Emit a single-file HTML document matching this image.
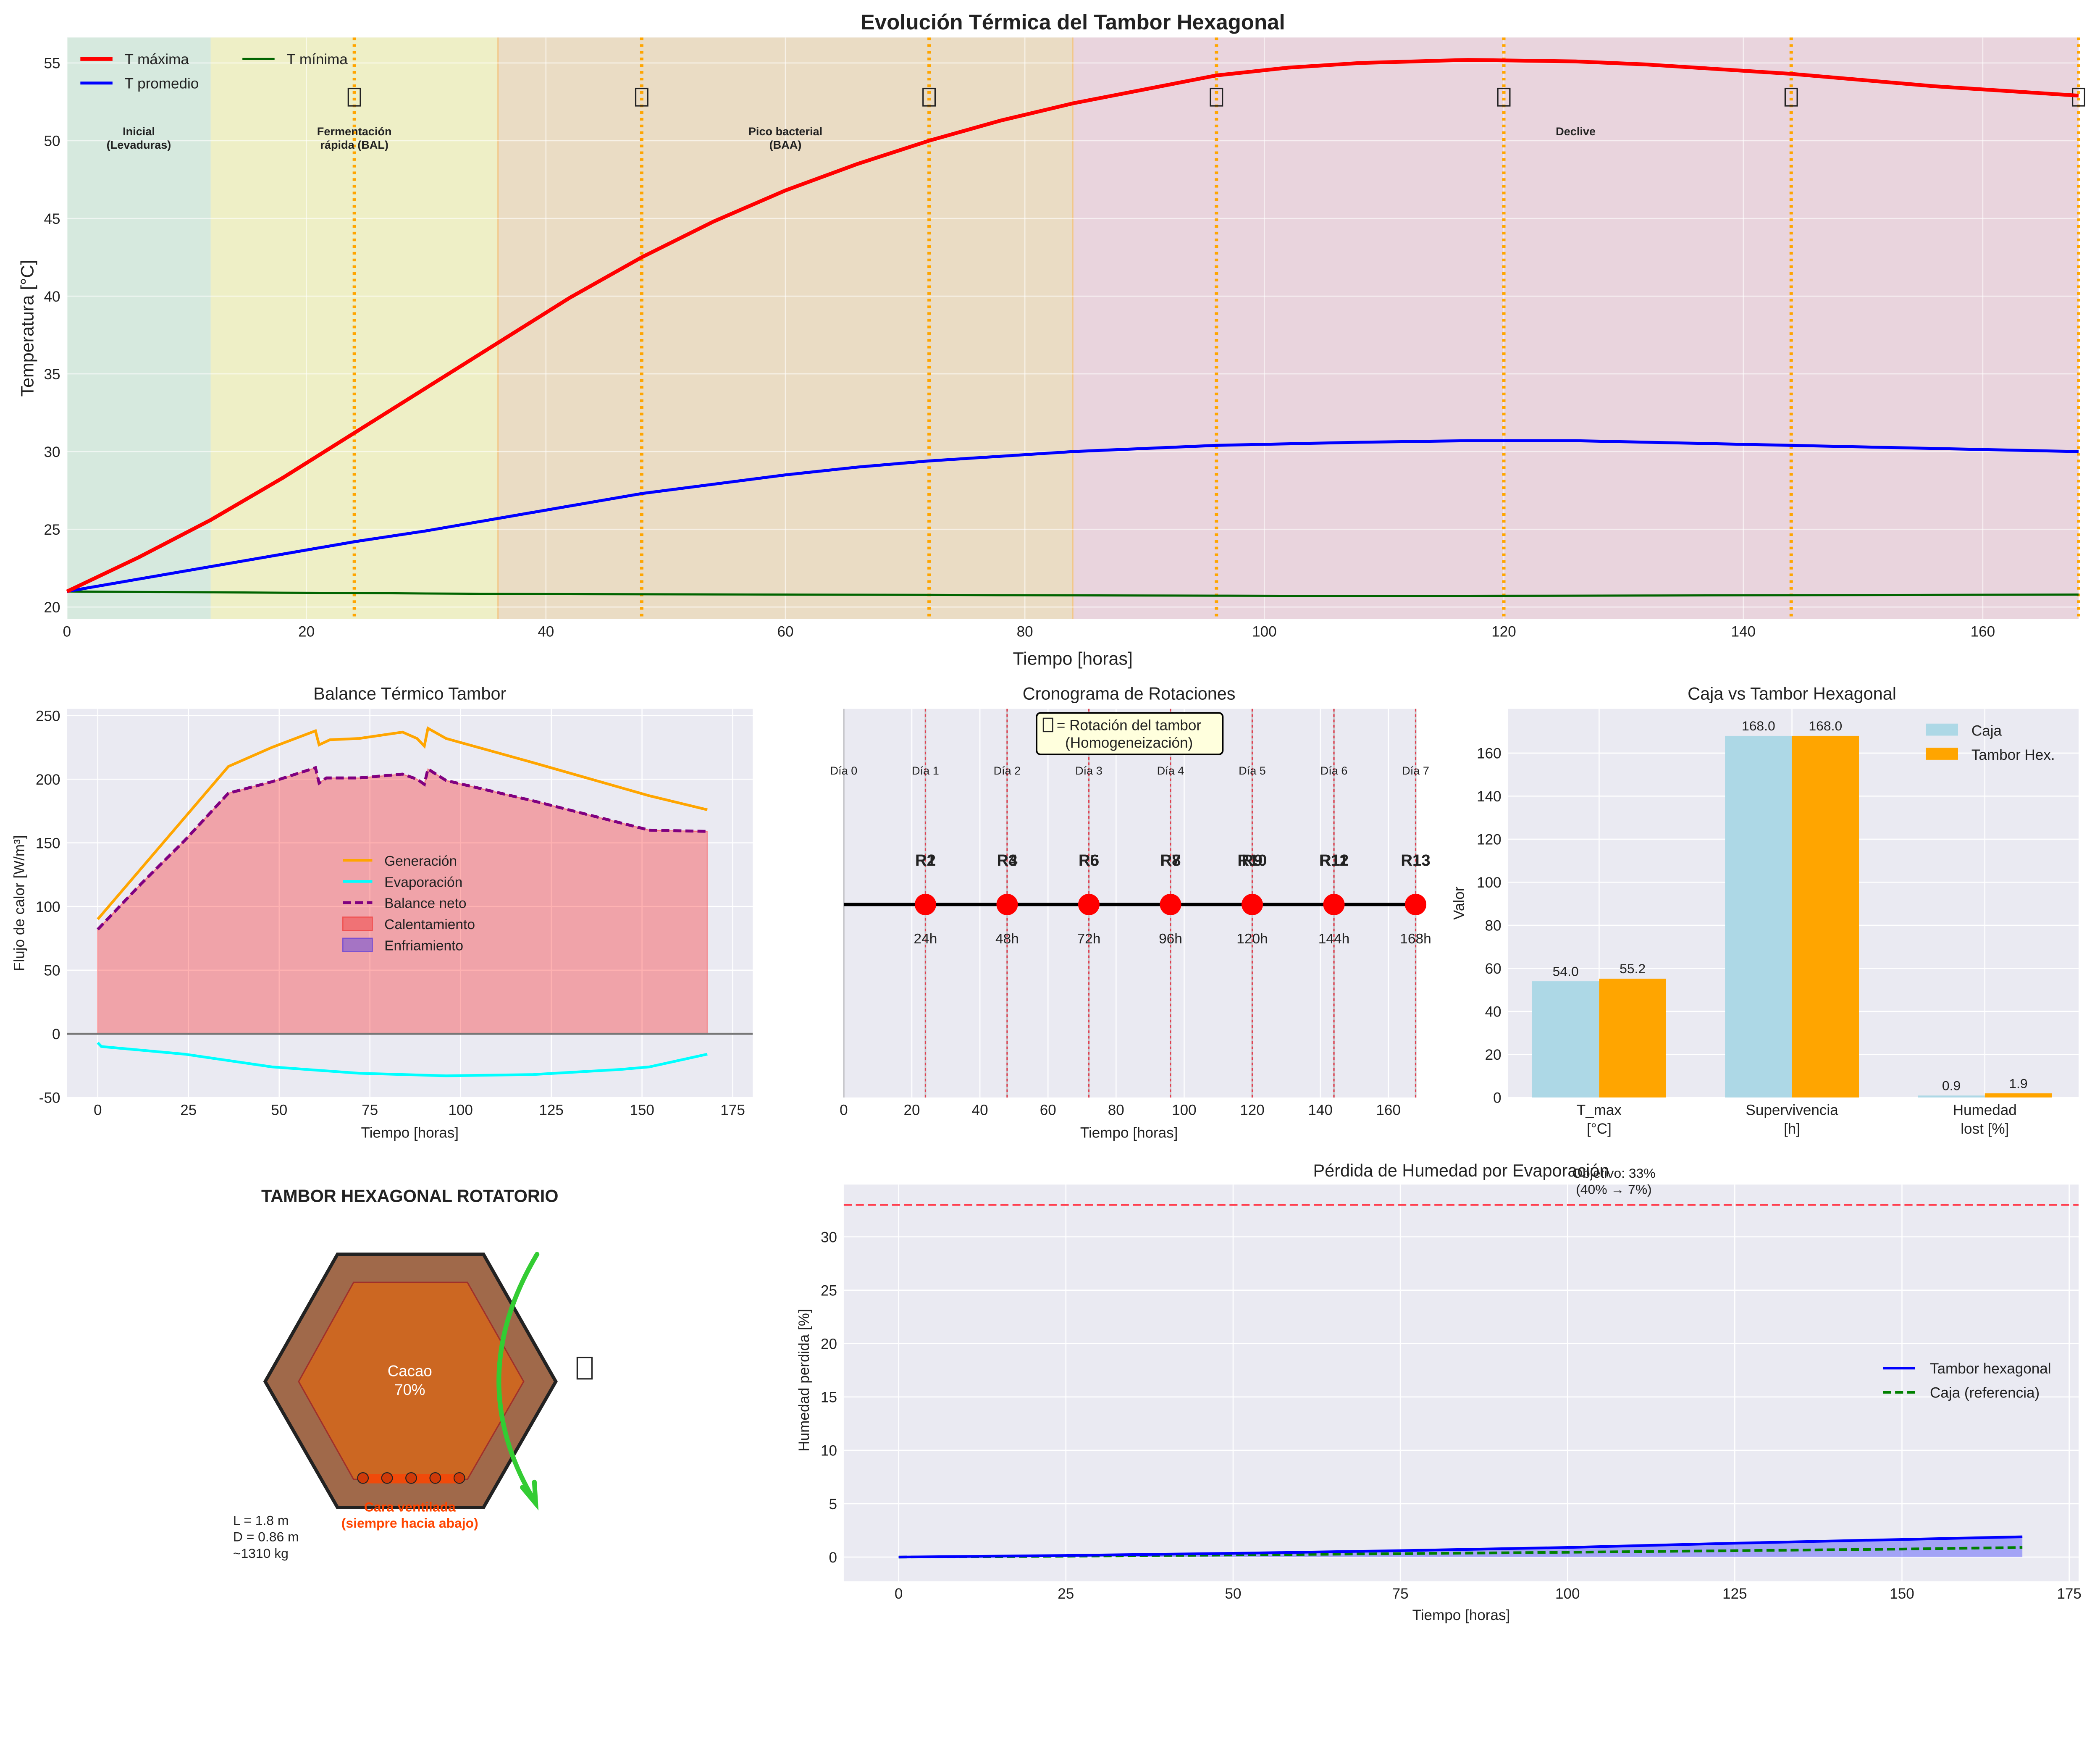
<!DOCTYPE html>
<html><head><meta charset="utf-8"><style>
html,body{margin:0;padding:0;background:#fff;overflow:hidden}
#fig{display:block;position:absolute;left:0;top:0;width:100vw;height:77.5871vw}
text{font-family:"Liberation Sans",sans-serif;fill:#222}
</style></head><body>
<svg id="fig" xmlns="http://www.w3.org/2000/svg" viewBox="0 0 1568 1216" preserveAspectRatio="none">
<rect x="0" y="0" width="1568" height="1216" fill="#fff"/>
</svg>
<script>
// ---------- DATA ----------
const tempHours = [0,6,12,18,24,30,36,42,48,54,60,66,72,78,84,90,96,102,108,117,126,132,144,156,168];
const tMax =      [21,23.2,25.6,28.3,31.2,34.1,37,39.9,42.5,44.8,46.8,48.5,50,51.3,52.4,53.3,54.2,54.7,55,55.2,55.1,54.9,54.3,53.5,52.9];
const tProm =     [21,21.8,22.6,23.4,24.2,24.9,25.7,26.5,27.3,27.9,28.5,29,29.4,29.7,30,30.2,30.4,30.5,30.6,30.7,30.7,30.6,30.4,30.2,30];
const tMin =      [21,20.97,20.95,20.92,20.9,20.87,20.85,20.83,20.82,20.81,20.8,20.79,20.78,20.76,20.75,20.74,20.73,20.72,20.72,20.72,20.73,20.74,20.76,20.78,20.8];
const phaseStarts = [0,12,36,84];
const phaseEnds = [12,36,84,168];
const phaseLabels = [["Inicial","(Levaduras)"],["Fermentación","rápida (BAL)"],["Pico bacterial","(BAA)"],["Declive",""]];
const phaseLabelAt = [6,24,60,126];
const rotationHours = [24,48,72,96,120,144,168];

const genHours = [0,12,24,36,48,60,61,64,72,84,88,90,91,96,120,152,168];
const genVals =  [90,130,170,210,225,238,227,231,232,237,232,226,240,232,213,187,176];
const balHours = [0,12,24,36,48,60,61,63,72,84,88,90,91,96,120,152,168];
const balVals =  [82,118,152,189,198,209,197,201,201,204,200,196,208,199,183,160,159];
const evapHours = [0,1,24,48,72,96,120,144,152,168];
const evapVals =  [-7,-10,-16,-26,-31,-33,-32,-28,-26,-16];

const dayLabels = ["Día 0","Día 1","Día 2","Día 3","Día 4","Día 5","Día 6","Día 7"];
const rotLabelsA = ["R1","R3","R5","R7","R9","R11","R13"];
const rotLabelsB = ["R2","R4","R6","R8","R10","R12","R13"];

const cmpCategories = [["T_max","[°C]"],["Supervivencia","[h]"],["Humedad","lost [%]"]];
const cajaVals = [54.0,168.0,0.9];
const tamborVals = [55.2,168.0,1.9];

const humHours = [0,25,50,75,100,125,150,168];
const humTambor = [0,0.15,0.35,0.6,0.9,1.3,1.65,1.9];
const humCaja = [0,0.08,0.2,0.32,0.45,0.6,0.75,0.9];
const humTarget = 33;

// ---------- HELPERS ----------
const svg = document.getElementById('fig');
const NS = 'http://www.w3.org/2000/svg';
function mk(tag, attrs, parent){
  const e = document.createElementNS(NS, tag);
  for (const k in attrs) e.setAttribute(k, attrs[k]);
  (parent||svg).appendChild(e);
  return e;
}
function nm(el, name, inter){
  
  
  return el;
}
function txt(x,y,s,size,opts,parent){
  const a = Object.assign({x:x,y:y,'font-size':size}, opts||{});
  const t = mk('text', a, parent);
  t.textContent = s;
  return t;
}
function lin(d0,d1,r0,r1){ return v => r0 + (v-d0)/(d1-d0)*(r1-r0); }
function pathOf(xs,ys,X,Y){ return xs.map((v,i)=>(i?'L':'M')+X(v).toFixed(2)+','+Y(ys[i]).toFixed(2)).join(''); }
function frame(x0,y0,x1,y1,bg,parent){
  const r = mk('rect',{x:x0,y:y0,width:x1-x0,height:y1-y0,fill:bg||'#eaeaf2'},parent);
  nm(r,'plot-background',false);
  return r;
}

// ================= TOP CHART =================
{
  const g = mk('g',{});
  nm(g,'temperature-chart',false);
  const X = lin(0,168,50,1552), Y = lin(20,55,453,47);
  const x0=50,x1=1552,y0=28,y1=462;
  frame(x0,y0,x1,y1,'#eaeaf2',g);
  const bandColors = ['#d6e9de','#eeefc6','#eadcc4','#e9d4dd'];
  const bandNames = ['phase-initial-band','phase-fast-band','phase-peak-band','phase-decline-band'];
  phaseStarts.forEach((s,i)=>{
    const r = mk('rect',{x:X(s),y:y0,width:X(phaseEnds[i])-X(s),height:y1-y0,fill:bandColors[i]},g);
    nm(r,bandNames[i],false);
  });
  [36,84].forEach(h=>{ mk('line',{x1:X(h),x2:X(h),y1:y0,y2:y1,stroke:'#f2c88a','stroke-width':1},g); });
  for(let v=0; v<=160; v+=20){
    mk('line',{x1:X(v),x2:X(v),y1:y0,y2:y1,stroke:'#fff','stroke-width':0.8,'stroke-opacity':0.6},g);
    const t = txt(X(v),475,String(v),11,{'text-anchor':'middle'},g);
    nm(t,'x-tick-label',false);
  }
  for(let v=20; v<=55; v+=5){
    mk('line',{x1:x0,x2:x1,y1:Y(v),y2:Y(v),stroke:'#fff','stroke-width':0.8,'stroke-opacity':0.6},g);
    const t = txt(45,Y(v)+4,String(v),11,{'text-anchor':'end'},g);
    nm(t,'y-tick-label',false);
  }
  rotationHours.forEach(h=>{
    const l = mk('line',{x1:X(h),x2:X(h),y1:y0,y2:y1,stroke:'#ffa500','stroke-width':2.5,'stroke-dasharray':'2,3'},g);
    nm(l,'rotation-line',false);
    const r = mk('rect',{x:X(h)-4.5,y:66,width:9,height:13,fill:'none',stroke:'#222','stroke-width':1},g);
    nm(r,'rotation-icon',false);
  });
  phaseLabels.forEach((p,i)=>{
    const t1 = txt(X(phaseLabelAt[i]),101,p[0],8.5,{'text-anchor':'middle','font-weight':'bold'},g);
    nm(t1,'phase-label',false);
    if(p[1]){ const t2 = txt(X(phaseLabelAt[i]),111,p[1],8.5,{'text-anchor':'middle','font-weight':'bold'},g); nm(t2,'phase-label',false); }
  });
  const pMin = mk('path',{d:pathOf(tempHours,tMin,X,Y),fill:'none',stroke:'#006400','stroke-width':1.6},g); nm(pMin,'t-min-line',false);
  const pProm = mk('path',{d:pathOf(tempHours,tProm,X,Y),fill:'none',stroke:'#0000ff','stroke-width':2.2},g); nm(pProm,'t-prom-line',false);
  const pMax = mk('path',{d:pathOf(tempHours,tMax,X,Y),fill:'none',stroke:'#ff0000','stroke-width':2.8},g); nm(pMax,'t-max-line',false);
  const leg = mk('g',{},g); nm(leg,'legend',false);
  [['T máxima','#ff0000',2.8,60,44],['T promedio','#0000ff',2.2,60,62],['T mínima','#006400',1.6,181,44]].forEach(e=>{
    const it = mk('g',{},leg); nm(it,'legend-entry',false);
    mk('line',{x1:e[3],x2:e[3]+24,y1:e[4],y2:e[4],stroke:e[1],'stroke-width':e[2]},it);
    txt(e[3]+33,e[4]+4,e[0],11,{},it);
  });
  const t = txt(801,22,'Evolución Térmica del Tambor Hexagonal',16,{'text-anchor':'middle','font-weight':'bold'},g); nm(t,'chart-title',false);
  const xl = txt(801,496,'Tiempo [horas]',13.5,{'text-anchor':'middle'},g); nm(xl,'x-axis-title',false);
  const yl = txt(25,245,'Temperatura [°C]',13.5,{'text-anchor':'middle',transform:'rotate(-90 25 245)'},g); nm(yl,'y-axis-title',false);
}

// ================= BALANCE CHART =================
{
  const g = mk('g',{}); nm(g,'heat-balance-chart',false);
  const x0=50,x1=562,y0=529,y1=819;
  const X = lin(0,175,73,547.1), Y = lin(-50,250,819,534);
  frame(x0,y0,x1,y1,null,g);
  for(let v=0; v<=175; v+=25){
    mk('line',{x1:X(v),x2:X(v),y1:y0,y2:y1,stroke:'#fff','stroke-width':0.8},g);
    const t = txt(X(v),832,String(v),11,{'text-anchor':'middle'},g); nm(t,'x-tick-label',false);
  }
  for(let v=-50; v<=250; v+=50){
    mk('line',{x1:x0,x2:x1,y1:Y(v),y2:Y(v),stroke:'#fff','stroke-width':0.8},g);
    const t = txt(45,Y(v)+4,String(v),11,{'text-anchor':'end'},g); nm(t,'y-tick-label',false);
  }
  const fillD = pathOf(balHours,balVals,X,Y)+'L'+X(balHours[balHours.length-1])+','+Y(0)+'L'+X(0)+','+Y(0)+'Z';
  const f = mk('path',{d:fillD,fill:'#ff0000','fill-opacity':0.3,stroke:'#ff0000','stroke-opacity':0.35,'stroke-width':0.8},g); nm(f,'heating-area',false);
  mk('line',{x1:x0,x2:x1,y1:Y(0),y2:Y(0),stroke:'#777','stroke-width':1.5},g);
  const pg = mk('path',{d:pathOf(genHours,genVals,X,Y),fill:'none',stroke:'#ffa500','stroke-width':2},g); nm(pg,'generation-line',false);
  const pe = mk('path',{d:pathOf(evapHours,evapVals,X,Y),fill:'none',stroke:'#00ffff','stroke-width':2},g); nm(pe,'evaporation-line',false);
  const pb = mk('path',{d:pathOf(balHours,balVals,X,Y),fill:'none',stroke:'#800080','stroke-width':2.2,'stroke-dasharray':'6,3'},g); nm(pb,'net-balance-line',false);
  const leg = mk('g',{},g); nm(leg,'legend',false);
  const entries=[['Generación','line','#ffa500'],['Evaporación','line','#00ffff'],['Balance neto','dash','#800080'],['Calentamiento','box','#f07275'],['Enfriamiento','box','#a574c4']];
  entries.forEach((e,i)=>{
    const yy = 642+i*15.8;
    const it = mk('g',{},leg); nm(it,'legend-entry',false);
    if(e[1]==='line') mk('line',{x1:256,x2:278,y1:yy,y2:yy,stroke:e[2],'stroke-width':2},it);
    else if(e[1]==='dash') mk('line',{x1:256,x2:278,y1:yy,y2:yy,stroke:e[2],'stroke-width':2.2,'stroke-dasharray':'6,3'},it);
    else mk('rect',{x:256,y:yy-5,width:22,height:10,fill:e[2],stroke:e[2]==='#f07275'?'#f05050':'#7a50d0','stroke-width':0.8},it);
    txt(287,yy+4,e[0],10.5,{},it);
  });
  const t = txt(306,522,'Balance Térmico Tambor',13,{'text-anchor':'middle'},g); nm(t,'chart-title',false);
  const xl = txt(306,849,'Tiempo [horas]',11,{'text-anchor':'middle'},g); nm(xl,'x-axis-title',false);
  const yl = txt(18,674,'Flujo de calor [W/m³]',11,{'text-anchor':'middle',transform:'rotate(-90 18 674)'},g); nm(yl,'y-axis-title',false);
}

// ================= ROTATION SCHEDULE =================
{
  const g = mk('g',{}); nm(g,'rotation-schedule-chart',false);
  const x0=630,x1=1057,y0=529,y1=819;
  const X = lin(0,168,630,1057);
  frame(x0,y0,x1,y1,null,g);
  for(let v=0; v<=160; v+=20){
    mk('line',{x1:X(v),x2:X(v),y1:y0,y2:y1,stroke:'#fff','stroke-width':0.8},g);
    const t = txt(X(v),832,String(v),11,{'text-anchor':'middle'},g); nm(t,'x-tick-label',false);
  }
  [0].concat(rotationHours).forEach(h=>{ mk('line',{x1:X(h),x2:X(h),y1:y0,y2:y1,stroke:'#c8c8cc','stroke-width':1.2},g); });
  rotationHours.forEach(h=>{
    const l = mk('line',{x1:X(h),x2:X(h),y1:y0,y2:y1,stroke:'#e04050','stroke-width':1,'stroke-dasharray':'2,2'},g); nm(l,'rotation-line',false);
  });
  dayLabels.forEach((d,i)=>{ const t = txt(X(i*24),578,d,8.5,{'text-anchor':'middle'},g); nm(t,'day-label',false); });
  const ty = 675;
  const tl = mk('line',{x1:x0,x2:x1,y1:ty,y2:ty,stroke:'#000','stroke-width':2.5},g); nm(tl,'timeline',false);
  rotationHours.forEach((h,i)=>{
    const c = mk('ellipse',{cx:X(h),cy:ty,rx:8,ry:8,fill:'#ff0000'},g); nm(c,'rotation-marker',true);
    const a = txt(X(h),646,rotLabelsA[i],12,{'text-anchor':'middle','font-weight':'bold'},g); nm(a,'rotation-label',false);
    const b = txt(X(h),646,rotLabelsB[i],12,{'text-anchor':'middle','font-weight':'bold'},g); nm(b,'rotation-label',false);
    const hl = txt(X(h),704,h+'h',10.5,{'text-anchor':'middle'},g); nm(hl,'hour-label',false);
  });
  const bx = mk('g',{},g); nm(bx,'info-box',false);
  mk('rect',{x:774,y:532,width:139,height:31,rx:3,fill:'#ffffdd',stroke:'#000','stroke-width':1.2},bx);
  mk('rect',{x:779,y:536,width:7,height:10,fill:'none',stroke:'#222','stroke-width':0.8},bx);
  txt(789,545,'= Rotación del tambor',11,{},bx);
  txt(843,558,'(Homogeneización)',11,{'text-anchor':'middle'},bx);
  const t = txt(843,522,'Cronograma de Rotaciones',13,{'text-anchor':'middle'},g); nm(t,'chart-title',false);
  const xl = txt(843,849,'Tiempo [horas]',11,{'text-anchor':'middle'},g); nm(xl,'x-axis-title',false);
}

// ================= COMPARISON BARS =================
{
  const g = mk('g',{}); nm(g,'comparison-chart',false);
  const x0=1126,x1=1552,y0=529,y1=819;
  const Y = lin(0,160,819,562);
  const centers = [1194,1338,1482];
  const bw = 50;
  frame(x0,y0,x1,y1,null,g);
  for(let v=0; v<=160; v+=20){
    mk('line',{x1:x0,x2:x1,y1:Y(v),y2:Y(v),stroke:'#fff','stroke-width':0.8},g);
    const t = txt(1121,Y(v)+4,String(v),11,{'text-anchor':'end'},g); nm(t,'y-tick-label',false);
  }
  centers.forEach(c=>{ mk('line',{x1:c,x2:c,y1:y0,y2:y1,stroke:'#fff','stroke-width':0.8},g); });
  cmpCategories.forEach((cat,i)=>{
    const c = centers[i];
    const r1 = mk('rect',{x:c-bw,y:Y(cajaVals[i]),width:bw,height:Y(0)-Y(cajaVals[i]),fill:'#add8e6'},g); nm(r1,'bar-caja',true);
    const r2 = mk('rect',{x:c,y:Y(tamborVals[i]),width:bw,height:Y(0)-Y(tamborVals[i]),fill:'#ffa500'},g); nm(r2,'bar-tambor',true);
    const l1 = txt(c-bw/2,Y(cajaVals[i])-4,cajaVals[i].toFixed(1),10,{'text-anchor':'middle'},g); nm(l1,'bar-value',false);
    const l2 = txt(c+bw/2,Y(tamborVals[i])-4,tamborVals[i].toFixed(1),10,{'text-anchor':'middle'},g); nm(l2,'bar-value',false);
    const c1 = txt(c,832,cat[0],11,{'text-anchor':'middle'},g); nm(c1,'x-tick-label',false);
    const c2 = txt(c,846,cat[1],11,{'text-anchor':'middle'},g); nm(c2,'x-tick-label',false);
  });
  const leg = mk('g',{},g); nm(leg,'legend',false);
  [['Caja','#add8e6',545],['Tambor Hex.','#ffa500',563]].forEach(e=>{
    const it = mk('g',{},leg); nm(it,'legend-entry',false);
    mk('rect',{x:1438,y:e[2]-5,width:24,height:9,fill:e[1]},it);
    txt(1472,e[2]+4,e[0],11,{},it);
  });
  const t = txt(1338,522,'Caja vs Tambor Hexagonal',13,{'text-anchor':'middle'},g); nm(t,'chart-title',false);
  const yl = txt(1093,674,'Valor',11,{'text-anchor':'middle',transform:'rotate(-90 1093 674)'},g); nm(yl,'y-axis-title',false);
}

// ================= HEXAGON DIAGRAM =================
{
  const g = mk('g',{}); nm(g,'hexagon-diagram',false);
  const t = txt(306,897,'TAMBOR HEXAGONAL ROTATORIO',13,{'text-anchor':'middle','font-weight':'bold'},g); nm(t,'diagram-title',false);
  const outer = mk('polygon',{points:'198,1031 252,936 361,936 415,1031 361,1125 252,1125',fill:'#a0694a',stroke:'#222','stroke-width':2.5},g); nm(outer,'drum-outer',false);
  const inner = mk('polygon',{points:'223,1031 264,957 349,957 391,1031 349,1104 264,1104',fill:'#cc6722',stroke:'#a0302a','stroke-width':1},g); nm(inner,'cacao-fill',false);
  const bar = mk('rect',{x:270,y:1100,width:73,height:7,fill:'#f04a0a'},g); nm(bar,'ventilated-face',false);
  [271,289,307,325,343].forEach(cx=>{ mk('circle',{cx:cx,cy:1103,r:4,fill:'#d03a08',stroke:'#222','stroke-width':0.7},g); });
  const c1 = txt(306,1027,'Cacao',11.5,{'text-anchor':'middle',style:'fill:#fff'},g); nm(c1,'cacao-label',false);
  const c2 = txt(306,1041,'70%',11.5,{'text-anchor':'middle',style:'fill:#fff'},g); nm(c2,'cacao-label',false);
  const ar = mk('path',{d:'M401,936 Q345,1030 399,1120',fill:'none',stroke:'#33cc33','stroke-width':3.5,'stroke-linecap':'round'},g); nm(ar,'rotation-arrow',false);
  mk('path',{d:'M390,1110 L400,1122 L399,1106',fill:'none',stroke:'#33cc33','stroke-width':3.5,'stroke-linecap':'round'},g);
  const ic = mk('rect',{x:431,y:1013,width:11,height:16,fill:'none',stroke:'#222','stroke-width':1},g); nm(ic,'rotation-icon',false);
  const v1 = txt(306,1128,'Cara ventilada',10,{'text-anchor':'middle','font-weight':'bold',style:'fill:#ff4500'},g); nm(v1,'ventilated-label',false);
  const v2 = txt(306,1140,'(siempre hacia abajo)',10,{'text-anchor':'middle','font-weight':'bold',style:'fill:#ff4500'},g); nm(v2,'ventilated-label',false);
  ['L = 1.8 m','D = 0.86 m','~1310 kg'].forEach((s,i)=>{ const d = txt(174,1138+i*12.3,s,10,{},g); nm(d,'dimension-label',false); });
}

// ================= HUMIDITY LOSS =================
{
  const g = mk('g',{}); nm(g,'humidity-chart',false);
  const x0=630,x1=1552,y0=884,y1=1180;
  const X = lin(0,175,671,1545), Y = lin(0,30,1162,923);
  frame(x0,y0,x1,y1,null,g);
  for(let v=0; v<=175; v+=25){
    mk('line',{x1:X(v),x2:X(v),y1:y0,y2:y1,stroke:'#fff','stroke-width':0.8},g);
    const t = txt(X(v),1193,String(v),11,{'text-anchor':'middle'},g); nm(t,'x-tick-label',false);
  }
  for(let v=0; v<=30; v+=5){
    mk('line',{x1:x0,x2:x1,y1:Y(v),y2:Y(v),stroke:'#fff','stroke-width':0.8},g);
    const t = txt(625,Y(v)+4,String(v),11,{'text-anchor':'end'},g); nm(t,'y-tick-label',false);
  }
  const tl = mk('line',{x1:x0,x2:x1,y1:Y(humTarget),y2:Y(humTarget),stroke:'#ff4050','stroke-width':1.5,'stroke-dasharray':'6,3'},g); nm(tl,'target-line',false);
  const fd = pathOf(humHours,humTambor,X,Y)+'L'+X(humHours[humHours.length-1])+','+Y(0)+'L'+X(0)+','+Y(0)+'Z';
  const fa = mk('path',{d:fd,fill:'#0000ff','fill-opacity':0.3},g); nm(fa,'tambor-area',false);
  const pc = mk('path',{d:pathOf(humHours,humCaja,X,Y),fill:'none',stroke:'#008000','stroke-width':2,'stroke-dasharray':'6,3'},g); nm(pc,'caja-line',false);
  const pt = mk('path',{d:pathOf(humHours,humTambor,X,Y),fill:'none',stroke:'#0000ff','stroke-width':2},g); nm(pt,'tambor-line',false);
  const t = txt(1091,878,'Pérdida de Humedad por Evaporación',13,{'text-anchor':'middle'},g); nm(t,'chart-title',false);
  const a1 = txt(1205,879,'Objetivo: 33%',10,{'text-anchor':'middle'},g); nm(a1,'target-annotation',false);
  const a2 = txt(1205,891,'(40% → 7%)',10,{'text-anchor':'middle'},g); nm(a2,'target-annotation',false);
  const leg = mk('g',{},g); nm(leg,'legend',false);
  [['Tambor hexagonal','#0000ff','',1021],['Caja (referencia)','#008000','6,3',1039]].forEach(e=>{
    const it = mk('g',{},leg); nm(it,'legend-entry',false);
    mk('line',{x1:1406,x2:1430,y1:e[3],y2:e[3],stroke:e[1],'stroke-width':2,'stroke-dasharray':e[2]||'none'},it);
    txt(1441,e[3]+4,e[0],11,{},it);
  });
  const xl = txt(1091,1209,'Tiempo [horas]',11,{'text-anchor':'middle'},g); nm(xl,'x-axis-title',false);
  const yl = txt(604,1030,'Humedad perdida [%]',11,{'text-anchor':'middle',transform:'rotate(-90 604 1030)'},g); nm(yl,'y-axis-title',false);
}
</script>
</body></html>
